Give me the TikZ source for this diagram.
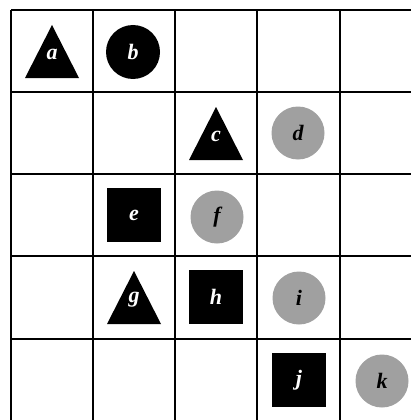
\documentclass[tikz,border=0pt]{standalone}
\usepackage{fontspec}
\setmainfont{Liberation Serif}
\definecolor{stip}{HTML}{A0A0A0}
\begin{document}
\begin{tikzpicture}[x=1pt,y=-1pt,
  grid/.style={line width=1.6pt,black},
  lbl/.style={font=\fontsize{22}{26}\selectfont\bfseries\itshape,inner sep=0pt},
  wlbl/.style={lbl,text=white},
  blackdisc/.style={circle,fill=black,minimum size=54pt,inner sep=0pt,font=\fontsize{22}{26}\selectfont\bfseries\itshape,text=white},
  graydisc/.style={circle,fill=stip,minimum size=53pt,inner sep=0pt,font=\fontsize{22}{26}\selectfont\bfseries\itshape,text=black},
  blacksq/.style={rectangle,fill=black,minimum size=54pt,inner sep=0pt,font=\fontsize{22}{26}\selectfont\bfseries\itshape,text=white}]
\useasboundingbox (0,0) rectangle (411,420);
\clip (0,0) rectangle (411,420);
\fill[white] (0,0) rectangle (411,420);
% grid
\foreach \gx in {11,93,175,257,340} {\draw[grid] (\gx,10) -- (\gx,425);}
\foreach \gy in {10,92,174,256,339} {\draw[grid] (11,\gy) -- (416,\gy);}
% triangles
\fill[black] (25,78) -- (52,25) -- (79,78) -- cycle;
\node[wlbl] (a) at (52,54) {a};
\fill[black] (189,160) -- (216,107) -- (243,160) -- cycle;
\node[wlbl] (c) at (216,136) {c};
\fill[black] (107,324) -- (134,271) -- (161,324) -- cycle;
\node[wlbl] (g) at (134,300) {g};
% discs
\node[blackdisc] (b) at (133,52) {b};
\node[graydisc] (d) at (298,133) {d};
\node[graydisc] (f) at (217,217) {f};
\node[graydisc] (i) at (299,298) {i};
\node[graydisc] (k) at (382,381) {k};
% squares
\node[blacksq] (e) at (134,215) {e};
\node[blacksq] (h) at (216,297) {h};
\node[blacksq] (j) at (299,380) {j};
\end{tikzpicture}
\end{document}
